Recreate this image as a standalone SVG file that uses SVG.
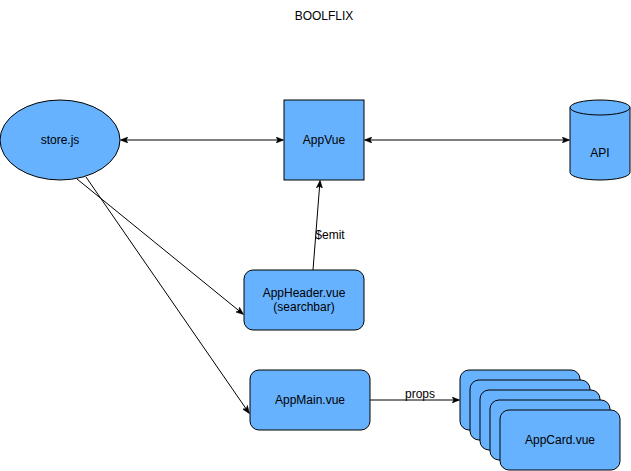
<svg xmlns="http://www.w3.org/2000/svg" width="631" height="471" viewBox="0 0 631 471">
<style>
.n{fill:#66b2ff;stroke:#000;stroke-width:1}
.t{font-family:"Liberation Sans",Arial,sans-serif;font-size:12px;fill:#000;text-anchor:middle}
.e{fill:none;stroke:#000;stroke-width:1}
</style>
<defs>
<marker id="ah" viewBox="0 0 10 8" refX="9" refY="4" markerWidth="8" markerHeight="6.4" orient="auto-start-reverse" markerUnits="userSpaceOnUse">
<path d="M0,0 L10,4 L0,8 L2.5,4 Z" fill="#000" stroke="#000" stroke-width="0.5"/>
</marker>
</defs>
<rect width="631" height="471" fill="#fff"/>
<text class="t" x="324" y="20">BOOLFLIX</text>
<g id="connectors">
<line class="e" x1="121" y1="140" x2="283" y2="140" marker-start="url(#ah)" marker-end="url(#ah)"/>
<line class="e" x1="365" y1="140" x2="569" y2="140" marker-start="url(#ah)" marker-end="url(#ah)"/>
<line class="e" x1="313" y1="270" x2="320" y2="181" marker-end="url(#ah)"/>
<text class="t" x="330" y="239">$emit</text>
<line class="e" x1="77" y1="179" x2="243" y2="314" marker-end="url(#ah)"/>
<line class="e" x1="86" y1="177" x2="249" y2="413" marker-end="url(#ah)"/>
<line class="e" x1="370" y1="400" x2="459" y2="400" marker-end="url(#ah)"/>
<text class="t" x="420" y="398">props</text>
</g>
<g id="store">
<ellipse class="n" cx="60" cy="140" rx="60" ry="40"/>
<text class="t" x="60" y="144">store.js</text>
</g>
<g id="appvue">
<rect class="n" x="284" y="100" width="80" height="80"/>
<text class="t" x="324" y="144">AppVue</text>
</g>
<g id="api">
<path class="n" d="M570,107.5 A30,7.5 0 0 1 630,107.5 V172.5 A30,7.5 0 0 1 570,172.5 Z"/>
<path class="e" d="M570,107.5 A30,7.5 0 0 0 630,107.5"/>
<text class="t" x="600" y="157">API</text>
</g>
<g id="appheader">
<rect class="n" x="244" y="270" width="120" height="60" rx="9"/>
<text class="t" x="304" y="297">AppHeader.vue</text>
<text class="t" x="304" y="311">(searchbar)</text>
</g>
<g id="appmain">
<rect class="n" x="250" y="370" width="120" height="60" rx="9"/>
<text class="t" x="310" y="404">AppMain.vue</text>
</g>
<g id="appcards">
<rect class="n" x="460" y="370" width="120" height="60" rx="9"/>
<rect class="n" x="470" y="380" width="120" height="60" rx="9"/>
<rect class="n" x="480" y="390" width="120" height="60" rx="9"/>
<rect class="n" x="490" y="400" width="120" height="60" rx="9"/>
<rect class="n" x="500" y="410" width="120" height="60" rx="9"/>
<text class="t" x="560" y="444">AppCard.vue</text>
</g>
</svg>
